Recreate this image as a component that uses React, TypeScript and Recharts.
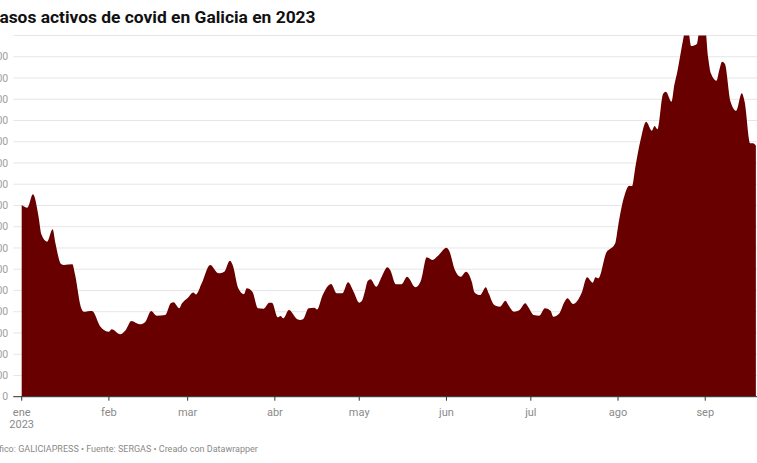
import React from "react";
import { AreaChart, Area, XAxis, YAxis, CartesianGrid } from "recharts";

const TITLE = "Casos activos de covid en Galicia en 2023";
const FOOTER = "Gráfico: GALICIAPRESS • Fuente: SERGAS • Creado con Datawrapper";

const daysSinceJan1 = [
  0, 2, 4, 6, 7, 9, 11, 12, 14, 15, 18, 19, 21, 22, 25, 28, 31, 32, 35, 37, 39, 42, 44, 46, 48, 51, 53, 54, 56, 57,
  59, 61, 62, 64, 67, 70, 72, 74, 75, 77, 79, 80, 82, 84, 86, 88, 89, 91, 92, 93, 95, 98, 99, 100, 102, 104, 105,
  107, 110, 112, 114, 116, 118, 120, 121, 122, 123, 124, 126, 128, 130, 131, 133, 135, 137, 140, 142, 144, 146, 148,
  151, 152, 154, 156, 158, 160, 161, 163, 165, 166, 168, 170, 172, 173, 175, 177, 179, 180, 182, 184, 186, 188, 189,
  191, 193, 194, 196, 199, 201, 203, 204, 205, 208, 209, 211, 212, 214, 216, 217, 218, 220, 222, 224, 225, 226, 228,
  229, 231, 232, 233, 235, 236, 237, 238, 240, 241, 242, 243, 244, 245, 247, 248, 249, 250, 252, 254, 256, 257, 259,
  260, 261,
];

const activeCases = [
  1804, 1779, 1905, 1694, 1528, 1459, 1576, 1444, 1249, 1240, 1246, 1145, 847, 800, 807, 659, 612, 634, 587, 628, 712,
  681, 706, 807, 762, 769, 879, 888, 832, 879, 930, 982, 963, 1067, 1240, 1161, 1177, 1280, 1240, 1020, 964, 1020, 988,
  832, 828, 885, 885, 747, 760, 738, 816, 728, 722, 728, 832, 838, 822, 957, 1061, 973, 973, 1077, 988, 885, 905, 990,
  1090, 1105, 1035, 1129, 1218, 1192, 1058, 1058, 1129, 1030, 1098, 1312, 1287, 1327, 1403, 1371, 1192, 1129, 1177,
  1082, 982, 957, 1030, 973, 863, 847, 904, 863, 800, 816, 879, 847, 769, 762, 832, 809, 753, 780, 894, 926, 872, 973,
  1124, 1073, 1124, 1114, 1365, 1387, 1444, 1600, 1867, 1986, 1983, 2134, 2416, 2588, 2504, 2548, 2517, 2849, 2871,
  2777, 2934, 3050, 3340, 3460, 3440, 3301, 3320, 3460, 3470, 3460, 3200, 3044, 2974, 3075, 3153, 3131, 2777, 2692,
  2856, 2777, 2385, 2385, 2362,
];

const monthStartDays = [0, 31, 59, 90, 120, 151, 181, 212, 243];
const monthLabels = ["ene", "feb", "mar", "abr", "may", "jun", "jul", "ago", "sep"];
const yearLabel = "2023";
const yTicks = [0, 200, 400, 600, 800, 1000, 1200, 1400, 1600, 1800, 2000, 2200, 2400, 2600, 2800, 3000, 3200];
const yMax = 3400;

const data = daysSinceJan1.map((d, i) => ({ day: d, casos: activeCases[i] }));

const fmt = (v: number) => {
  const s = String(v);
  return s.length > 3 ? s.slice(0, s.length - 3) + "." + s.slice(-3) : s;
};

const FONT = "Roboto, 'Noto Sans', sans-serif";

const MonthTick = (props: any) => {
  const { x, payload } = props;
  const idx = monthStartDays.indexOf(payload.value);
  return (
    <g>
      <text x={x} y={415.5} textAnchor="middle" fontSize={11} fill="#8a8a8a" fontFamily={FONT}>
        {monthLabels[idx]}
      </text>
      {idx === 0 && (
        <text x={x} y={428} textAnchor="middle" fontSize={11} fill="#8a8a8a" fontFamily={FONT}>
          {yearLabel}
        </text>
      )}
    </g>
  );
};

export default function App() {
  return (
    <div
      style={{
        position: "fixed",
        left: 0,
        top: 0,
        width: 757,
        height: 463,
        overflow: "hidden",
        background: "#fff",
        fontFamily: FONT,
      }}
    >
      <div
        style={{
          position: "absolute",
          left: -12,
          top: 5,
          fontSize: 17.4,
          fontWeight: 700,
          color: "#111",
          whiteSpace: "nowrap",
          lineHeight: "24px",
        }}
      >
        {TITLE}
      </div>
      <div style={{ position: "absolute", left: 0, top: 0 }}>
        <AreaChart
          width={757}
          height={463}
          data={data}
          margin={{ top: 35.5, right: 0, bottom: 36.3, left: 0 }}
        >
          <CartesianGrid horizontal vertical={false} stroke="#e6e6e6" strokeWidth={1} />
          <XAxis
            dataKey="day"
            type="number"
            domain={[-3, 261.4]}
            allowDataOverflow
            ticks={monthStartDays}
            tick={<MonthTick />}
            tickSize={4}
            tickLine={{ stroke: "#333" }}
            axisLine={{ stroke: "#333", strokeWidth: 1 }}
            height={30}
            interval={0}
          />
          <YAxis
            type="number"
            domain={[0, yMax]}
            allowDataOverflow
            ticks={yTicks}
            width={13.25}
            axisLine={false}
            tickLine={false}
            tickSize={0}
            tickMargin={5}
            tickFormatter={fmt}
            tick={{ fontSize: 10.5, fill: "#a0a0a0", fontFamily: FONT }}
            interval={0}
          />
          <Area
            type="monotone"
            dataKey="casos"
            stroke="none"
            fill="#690000"
            fillOpacity={1}
            isAnimationActive={false}
            dot={false}
            activeDot={false}
          />
        </AreaChart>
      </div>
      <div
        style={{
          position: "absolute",
          left: -15,
          top: 443,
          fontSize: 9,
          color: "#8a8a8a",
          whiteSpace: "nowrap",
          lineHeight: "12px",
        }}
      >
        {FOOTER}
      </div>
    </div>
  );
}
